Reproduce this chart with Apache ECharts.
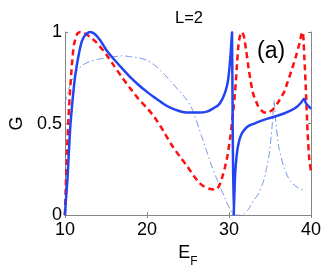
<!DOCTYPE html>
<html><head><meta charset="utf-8">
<script src="https://cdn.jsdelivr.net/npm/echarts@6/dist/echarts.min.js"></script>
<style>html,body{margin:0;padding:0;background:#fff}#c{width:327px;height:273px}</style>
</head><body><div id="c"></div>
<script>
var xTicks = [10, 20, 30, 40];
var yTicks = [0, 0.5, 1];

var solidE = [10.0,10.15,10.3,10.5,10.68,11.0,11.28,11.7,12.07,12.5,13.05,13.6,14.3,15.0,16.0,17.0,18.0,18.95,20.0,20.9,22.0,22.9,24.0,24.86,26.4,27.3,28.0,28.7,29.2,29.6,29.9,30.17,30.3,30.37,30.45,30.57,30.65,30.76,30.95,31.16,31.5,31.95,32.5,33.1,33.9,34.7,35.7,36.7,37.5,38.25,38.8,39.15,39.4,39.8,40.0];
var solidG = [0,0.1,0.19,0.36,0.5,0.66,0.77,0.88,0.95,0.985,1.0,0.99,0.955,0.905,0.85,0.8,0.752,0.712,0.673,0.643,0.608,0.585,0.567,0.56,0.56,0.565,0.58,0.6,0.635,0.68,0.74,0.86,0.95,1.0,0.5,0,0.1,0.23,0.33,0.39,0.44,0.47,0.49,0.5,0.515,0.527,0.54,0.555,0.57,0.59,0.615,0.635,0.61,0.59,0.58];

var dashE = [10.0,10.1,10.25,10.5,10.85,11.1,11.5,11.9,12.3,13.0,13.8,15.0,16.0,17.0,18.0,18.95,20.0,20.9,22.0,22.9,24.0,24.86,25.7,26.4,27.0,27.6,28.2,28.6,29.0,29.2,29.5,29.8,30.17,30.5,30.76,31.0,31.16,31.35,31.55,31.8,32.1,32.4,32.9,33.5,33.9,34.3,34.7,35.3,35.9,36.7,37.1,37.7,38.25,38.6,38.85,39.0,39.2,39.35,39.6,39.8,40.0];
var dashG = [0,0.15,0.35,0.59,0.82,0.93,0.99,1.0,0.995,0.975,0.945,0.88,0.815,0.75,0.69,0.635,0.585,0.536,0.46,0.39,0.32,0.27,0.215,0.176,0.155,0.144,0.14,0.145,0.18,0.21,0.26,0.32,0.43,0.56,0.68,0.84,0.93,0.98,1.0,0.98,0.9,0.8,0.67,0.6,0.575,0.56,0.56,0.575,0.61,0.67,0.72,0.8,0.88,0.94,0.99,1.0,0.85,0.71,0.44,0.3,0.24];

var dotE = [10.0,10.3,10.7,11.1,11.5,12.2,13.05,14.0,15.0,16.0,17.0,18.0,18.95,20.0,20.9,22.0,22.9,23.9,24.86,25.5,26.0,26.6,27.2,27.8,28.4,28.9,29.4,29.8,30.17,30.5,30.76,31.35,31.75,32.35,33.0,33.5,34.0,34.3,34.6,34.9,35.1,35.3,35.49,35.7,36.1,36.7,37.46,38.4,39.4];
var dotG = [0.61,0.66,0.72,0.76,0.79,0.82,0.84,0.85,0.86,0.865,0.87,0.865,0.86,0.845,0.82,0.775,0.73,0.68,0.63,0.58,0.52,0.44,0.36,0.28,0.21,0.155,0.105,0.06,0.03,0.01,0.0,0.0,0.005,0.03,0.08,0.11,0.16,0.2,0.26,0.33,0.41,0.51,0.626,0.51,0.365,0.26,0.185,0.15,0.13];

function pairs(a, b) { return a.map(function (v, i) { return [v, b[i]]; }); }

var FONT = 'Liberation Sans';
var axisGray = '#858585';
var chart = echarts.init(document.getElementById('c'), null, {renderer: 'canvas'});
var baseX = {
  type: 'value', min: 10, max: 40, interval: 10,
  axisLine: {show: true, lineStyle: {color: axisGray, width: 1}},
  axisTick: {show: true, inside: true, length: 3, lineStyle: {color: axisGray}},
  splitLine: {show: false}
};
var baseY = {
  type: 'value', min: 0, max: 1, interval: 0.5,
  axisLine: {show: true, lineStyle: {color: axisGray, width: 1}},
  axisTick: {show: true, inside: true, length: 3, lineStyle: {color: axisGray}},
  splitLine: {show: false}
};
chart.setOption({
  animation: false,
  backgroundColor: '#fff',
  grid: {left: 57.5, right: 16, top: 32, bottom: 55, containLabel: false},
  xAxis: [
    Object.assign({}, baseX, {
      position: 'bottom',
      axisLabel: {show: true, color: '#000', fontFamily: FONT, fontSize: 18, margin: 6,
        formatter: function (v) { return xTicks.indexOf(v) >= 0 ? String(v) : ''; }},
      name: '{e|E}{f|F}', nameLocation: 'middle', nameGap: 25,
      nameTextStyle: {rich: {
        e: {fontFamily: FONT, fontSize: 18, color: '#000'},
        f: {fontFamily: FONT, fontSize: 12, color: '#000', verticalAlign: 'bottom', padding: [0, 0, -6, 0]}
      }}
    }),
    Object.assign({}, baseX, {position: 'top', axisLabel: {show: false}})
  ],
  yAxis: [
    Object.assign({}, baseY, {
      position: 'left',
      axisLabel: {show: true, color: '#000', fontFamily: FONT, fontSize: 18, margin: 3,
        formatter: function (v) { return yTicks.indexOf(v) >= 0 ? String(v) : ''; }},
      name: 'G', nameLocation: 'middle', nameGap: 32,
      nameTextStyle: {fontFamily: FONT, fontSize: 18, color: '#000'}
    }),
    Object.assign({}, baseY, {position: 'right', axisLabel: {show: false}})
  ],
  graphic: [
    {type: 'text', left: 175, top: 10, style: {text: 'L=2', fontFamily: FONT, fontSize: 16.5, fill: '#000'}},
    {type: 'text', left: 257, top: 40, style: {text: '(a)', fontFamily: FONT, fontSize: 23, fill: '#000'}}
  ],
  series: [
    {type: 'line', name: 'dotdash', data: pairs(dotE, dotG), showSymbol: false, smooth: 0.2,
      lineStyle: {color: '#6f92e8', width: 1, type: [7, 3, 1.5, 3]}, z: 1},
    {type: 'line', name: 'dashed', data: pairs(dashE, dashG), showSymbol: false, smooth: 0.2,
      lineStyle: {color: '#ff1010', width: 2.5, type: [6, 4]}, z: 2},
    {type: 'line', name: 'solid', data: pairs(solidE, solidG), showSymbol: false, smooth: 0.2,
      lineStyle: {color: '#2244f2', width: 2.5}, z: 3}
  ]
});
</script></body></html>
